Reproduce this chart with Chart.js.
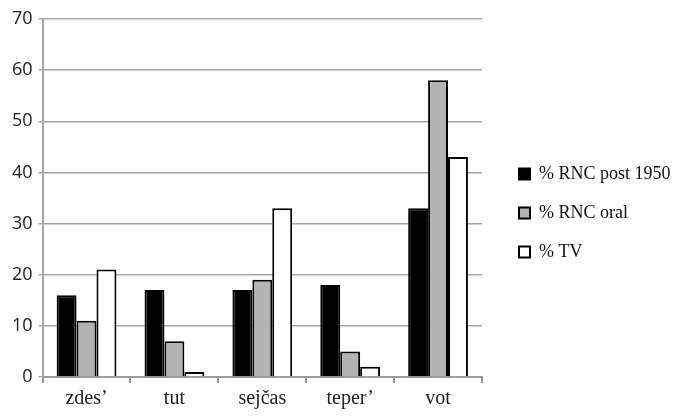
<!DOCTYPE html>
<html>
<head>
<meta charset="utf-8">
<script src="https://cdn.jsdelivr.net/npm/chart.js@4"></script>
<style>
  html, body { margin: 0; padding: 0; background: #fff; }
  #wrap { width: 685px; height: 417px; }
</style>
</head>
<body>
<div id="wrap"><canvas id="chartcanvas" width="685" height="417"></canvas></div>
<script>
const categories = ["zdes’", "tut", "sejčas", "teper’", "vot"];
const rncPost1950 = [16, 17, 17, 18, 33];
const rncOral = [11, 7, 19, 5, 58];
const tv = [21, 1, 33, 2, 43];
const yTicks = [0, 10, 20, 30, 40, 50, 60, 70];

const ctx = document.getElementById('chartcanvas').getContext('2d');

// legend gets a fixed width and is nudged to where the original one sits
const legendShift = {
  id: 'legendShift',
  beforeLayout(chart) {
    const lg = chart.legend;
    if (lg && !lg._fixedFit) {
      const fit = lg.fit;
      lg.fit = function() {
        fit.call(this);
        this.width = 203;
      };
      lg._fixedFit = true;
    }
  },
  afterLayout(chart) {
    const lg = chart.legend;
    lg.left += 16;
    lg.right += 16;
    lg.top -= 4;
    lg.bottom -= 4;
  }
};

const barConfig = {
  type: 'bar',
  data: {
    labels: categories,
    datasets: [{
      label: '% RNC post 1950',
      data: rncPost1950,
      backgroundColor: '#000000',
      borderColor: '#000000',
      borderWidth: 2,
    }, {
      label: '% RNC oral',
      data: rncOral,
      backgroundColor: '#b3b3b3',
      borderColor: '#000000',
      borderWidth: 2,
    }, {
      label: '% TV',
      data: tv,
      backgroundColor: '#ffffff',
      borderColor: '#000000',
      borderWidth: 2,
    }]
  },
  options: {
    responsive: false,
    animation: false,
    layout: {
      padding: { top: 19, left: 6, right: 0, bottom: 2 }
    },
    datasets: {
      bar: {
        barPercentage: 1.0,
        categoryPercentage: 0.68,
        borderSkipped: 'bottom',
      }
    },
    scales: {
      x: {
        grid: {
          offset: true,
          drawOnChartArea: false,
          color: '#9a9a9a',
          lineWidth: 2,
          tickLength: 6,
        },
        border: { color: '#9a9a9a', width: 2 },
        ticks: {
          color: '#222',
          padding: 4,
          font: { family: 'Liberation Serif', size: 20 },
        },
      },
      y: {
        min: 0,
        max: 70,
        afterBuildTicks(axis) {
          axis.ticks = yTicks.map(v => ({ value: v }));
        },
        grid: {
          color: '#a6a6a6',
          lineWidth: 1.5,
          tickLength: 4,
        },
        border: { color: '#a6a6a6', width: 2 },
        ticks: {
          color: '#222',
          padding: 6,
          font: { family: 'Open Sans', size: 18, weight: '500' },
        },
      }
    },
    plugins: {
      legend: {
        position: 'right',
        labels: {
          color: '#111',
          boxWidth: 11,
          boxHeight: 11,
          padding: 21,
          font: { family: 'Liberation Serif', size: 18 },
        }
      },
      tooltip: { enabled: false }
    }
  },
  plugins: [legendShift]
};

const barChart = new Chart(ctx, barConfig);
</script>
</body>
</html>
